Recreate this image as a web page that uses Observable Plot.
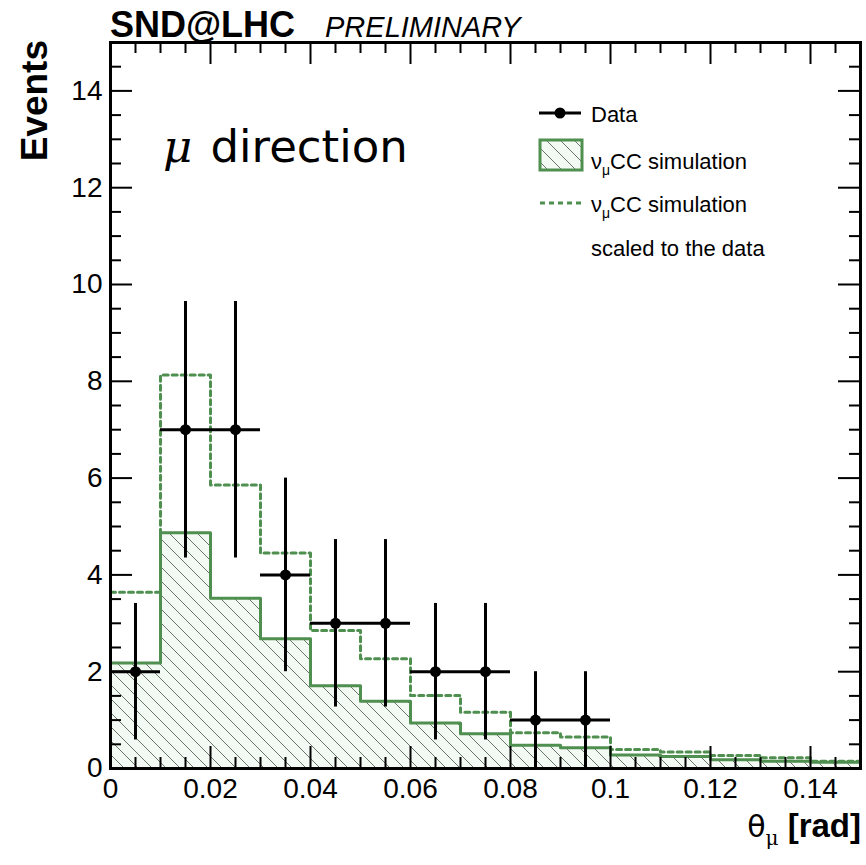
<!DOCTYPE html>
<html>
<head>
<meta charset="utf-8">
<script src="https://cdn.jsdelivr.net/npm/d3@7"></script>
<script src="https://cdn.jsdelivr.net/npm/@observablehq/plot@0.6"></script>
<style>
  html, body { margin: 0; padding: 0; background: #fff; }
  svg { display: block; }
</style>
</head>
<body>
<div id="chart"></div>
<script>
// ---- data ----
const binEdges = [0, 0.01, 0.02, 0.03, 0.04, 0.05, 0.06, 0.07, 0.08, 0.09, 0.10, 0.11, 0.12, 0.13, 0.14, 0.15];
const simValues = [2.18, 4.87, 3.52, 2.68, 1.71, 1.39, 0.94, 0.72, 0.48, 0.43, 0.28, 0.25, 0.18, 0.15, 0.13];
const scaledValues = [3.64, 8.13, 5.86, 4.45, 2.85, 2.27, 1.51, 1.16, 0.74, 0.65, 0.39, 0.34, 0.27, 0.22, 0.15];
const dataCenters = [0.005, 0.015, 0.025, 0.035, 0.045, 0.055, 0.065, 0.075, 0.085, 0.095];
const dataValues = [2, 7, 7, 4, 3, 3, 2, 2, 1, 1];
const dataErrors = [1.41, 2.65, 2.65, 2.0, 1.73, 1.73, 1.41, 1.41, 1.0, 1.0];
const dataHalfWidth = 0.005;
const xTickValues = [0, 0.02, 0.04, 0.06, 0.08, 0.10, 0.12, 0.14];
const xTickLabels = ["0", "0.02", "0.04", "0.06", "0.08", "0.1", "0.12", "0.14"];
const yTickValues = [0, 2, 4, 6, 8, 10, 12, 14];
const yTickLabels = ["0", "2", "4", "6", "8", "10", "12", "14"];
const xDomain = [0, 0.15];
const yDomain = [0, 15];

// ---- layout ----
const W = 866, H = 865;
const mL = 110, mR = 6, mT = 42, mB = 97;
const green = "#4f8f4f";
const kx = (W - mL - mR) / (xDomain[1] - xDomain[0]);
const ky = (H - mT - mB) / (yDomain[1] - yDomain[0]);
const majorLen = 22, minorLen = 11;

const xMinor = d3.range(0, 31).map(i => i * 0.005);
const yMinor = d3.range(0, 31).map(i => i * 0.5);

const simBins = simValues.map((v, i) => ({x1: binEdges[i], x2: binEdges[i + 1], y: v}));
const stepOf = vals => binEdges.map((e, i) => ({x: e, y: vals[Math.min(i, vals.length - 1)]}));
const simStep = stepOf(simValues);
const scaledStep = stepOf(scaledValues);
const dataPts = dataCenters.map((c, i) => ({x: c, y: dataValues[i], e: dataErrors[i]}));

const isMajorX = d => xTickValues.some(t => Math.abs(t - d) < 1e-9);
const isMajorY = d => yTickValues.some(t => Math.abs(t - d) < 1e-9);

const svg = Plot.plot({
  width: W, height: H,
  marginLeft: mL, marginRight: mR, marginTop: mT, marginBottom: mB,
  x: {domain: xDomain},
  y: {domain: yDomain},
  style: {fontFamily: "'Liberation Sans', Arial, Helvetica, sans-serif", color: "#000", background: "#fff"},
  marks: [
    Plot.rectY(simBins, {x1: "x1", x2: "x2", y1: 0, y2: "y", fill: "url(#hatch)"}),
    Plot.line(simStep, {x: "x", y: "y", curve: "step-after", stroke: green, strokeWidth: 3}),
    Plot.line(scaledStep, {x: "x", y: "y", curve: "step-after", stroke: green, strokeWidth: 3, strokeDasharray: "5,4"}),
    Plot.ruleX(dataPts, {x: "x", y1: d => Math.max(0, d.y - d.e), y2: d => d.y + d.e, stroke: "#000", strokeWidth: 3}),
    Plot.ruleY(dataPts, {y: "y", x1: d => d.x - dataHalfWidth, x2: d => d.x + dataHalfWidth, stroke: "#000", strokeWidth: 3}),
    Plot.dot(dataPts, {x: "x", y: "y", r: 5.5, fill: "#000", stroke: null}),
    // inward ticks on all four sides
    Plot.ruleX(xMinor, {x: d => d, y1: yDomain[0], y2: d => yDomain[0] + (isMajorX(d) ? majorLen : minorLen) / ky, stroke: "#000", strokeWidth: 2}),
    Plot.ruleX(xMinor, {x: d => d, y1: yDomain[1], y2: d => yDomain[1] - (isMajorX(d) ? majorLen : minorLen) / ky, stroke: "#000", strokeWidth: 2}),
    Plot.ruleY(yMinor, {y: d => d, x1: xDomain[0], x2: d => xDomain[0] + (isMajorY(d) ? majorLen : minorLen) / kx, stroke: "#000", strokeWidth: 2}),
    Plot.ruleY(yMinor, {y: d => d, x1: xDomain[1], x2: d => xDomain[1] - (isMajorY(d) ? majorLen : minorLen) / kx, stroke: "#000", strokeWidth: 2}),
    Plot.axisX({ticks: xTickValues, tickFormat: d => xTickLabels[xTickValues.indexOf(d)], tickSize: 0, tickPadding: 10, fontSize: 28, label: null}),
    Plot.axisY({ticks: yTickValues, tickFormat: d => yTickLabels[yTickValues.indexOf(d)], tickSize: 0, tickPadding: 8, fontSize: 28, label: null}),
    Plot.frame({stroke: "#000", strokeWidth: 3})
  ]
});

const s = d3.select(svg);
// hatch pattern
const defs = s.insert("defs", ":first-child");
const pat = defs.append("pattern").attr("id", "hatch")
  .attr("patternUnits", "userSpaceOnUse").attr("width", 14).attr("height", 14);
pat.append("rect").attr("width", 14).attr("height", 14).attr("fill", "#f3f9f3");
pat.append("path").attr("d", "M-4,10L4,18M0,0L14,14M10,-4L18,4")
  .attr("stroke", "#5a665a").attr("stroke-width", 0.9).attr("fill", "none");

const ff = "'Liberation Sans', Arial, Helvetica, sans-serif";
const g = s.append("g").attr("font-family", ff).attr("fill", "#000").attr("text-anchor", "start");

// title
g.append("text").attr("x", 110).attr("y", 37).attr("font-weight", "bold").attr("font-size", 36).text("SND@LHC");
g.append("text").attr("x", 325).attr("y", 37).attr("font-style", "italic").attr("font-size", 29).text("PRELIMINARY");

// y axis title
g.append("text").attr("transform", "translate(47,40) rotate(-90)").attr("text-anchor", "end")
  .attr("font-weight", "bold").attr("font-size", 37).text("Events");

// x axis title
const xt = g.append("text").attr("x", 861).attr("y", 837).attr("text-anchor", "end").attr("font-size", 33);
xt.append("tspan").attr("font-family", "'DejaVu Sans', sans-serif").attr("font-size", 30).text("θ");
xt.append("tspan").attr("font-family", "'DejaVu Serif', serif").attr("font-size", 20).attr("dy", 8).text("μ");
xt.append("tspan").attr("dy", -8).attr("font-weight", "bold").text(" [rad]");

// mu direction annotation
const md = g.append("text").attr("x", 163).attr("y", 162).attr("font-size", 45);
md.append("tspan").attr("font-family", "'DejaVu Serif', serif").attr("font-style", "italic").text("μ");
md.append("tspan").attr("font-family", "'DejaVu Sans', sans-serif").attr("dx", 4).text(" direction");

// legend
const lg = g.append("g").attr("font-size", 22);
lg.append("line").attr("x1", 539).attr("x2", 581).attr("y1", 113).attr("y2", 113).attr("stroke", "#000").attr("stroke-width", 3);
lg.append("circle").attr("cx", 560).attr("cy", 113).attr("r", 5.5).attr("fill", "#000");
lg.append("text").attr("x", 591).attr("y", 122).text("Data");

lg.append("rect").attr("x", 540).attr("y", 140).attr("width", 42).attr("height", 30)
  .attr("fill", "url(#hatch)").attr("stroke", green).attr("stroke-width", 3);
function nuLabel(y) {
  const t = lg.append("text").attr("x", 591).attr("y", y);
  t.append("tspan").text("ν");
  t.append("tspan").attr("font-size", 14).attr("dy", 6).text("μ");
  t.append("tspan").attr("dy", -6).text("CC simulation");
}
nuLabel(169);
lg.append("line").attr("x1", 540).attr("x2", 581).attr("y1", 203).attr("y2", 203)
  .attr("stroke", green).attr("stroke-width", 3).attr("stroke-dasharray", "5,4");
nuLabel(212);
lg.append("text").attr("x", 591).attr("y", 256).text("scaled to the data");

document.getElementById("chart").appendChild(svg);
</script>
</body>
</html>
